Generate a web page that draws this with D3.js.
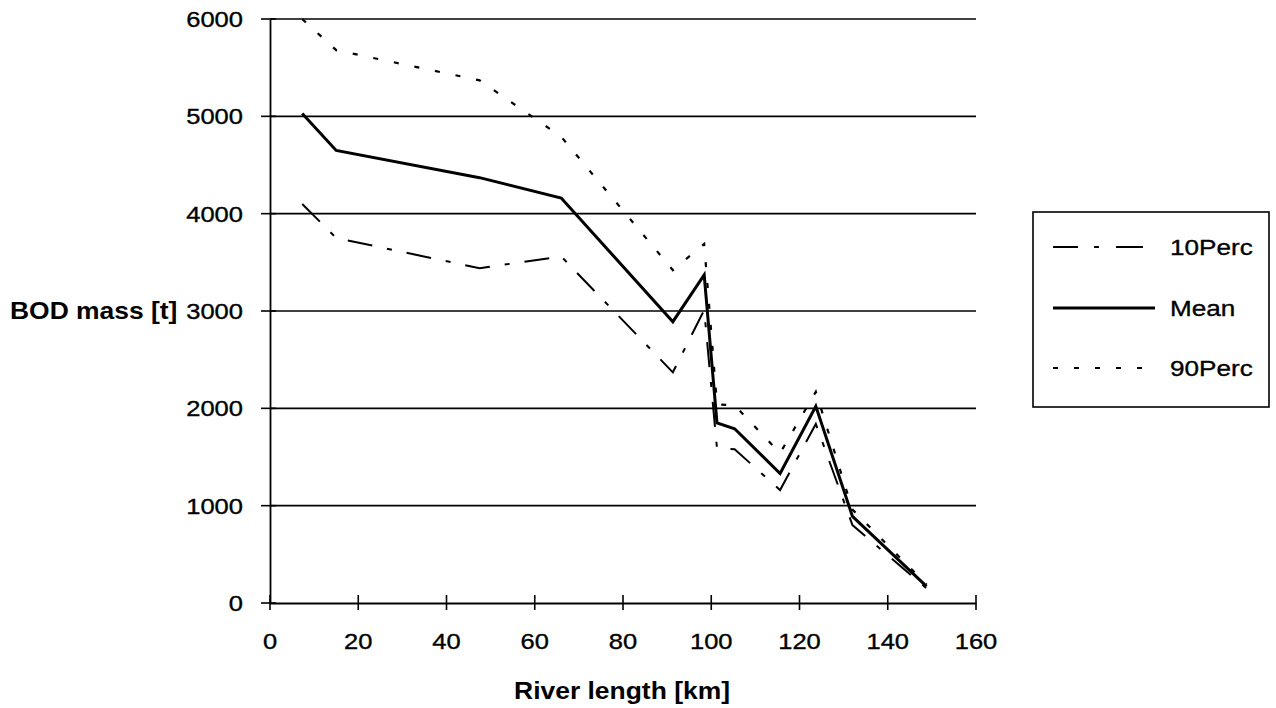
<!DOCTYPE html>
<html>
<head>
<meta charset="utf-8">
<script src="https://cdn.jsdelivr.net/npm/d3@7/dist/d3.min.js"></script>
<style>
  html, body { margin: 0; padding: 0; background: #fff; }
  svg { display: block; font-family: "Liberation Sans", Arial, Helvetica, sans-serif; }
</style>
</head>
<body>
<svg id="chart" width="1276" height="708"></svg>
<script>
// River km positions (shared by all series)
const riverKm = [7.3, 15, 47.5, 66, 91.3, 98.4, 101.3, 105.3, 115.6, 123.7, 132, 148.8];
const perc10 = [4100, 3750, 3440, 3560, 2370, 3010, 1590, 1580, 1160, 1840, 800, 150];
const mean   = [5030, 4650, 4370, 4160, 2890, 3370, 1850, 1790, 1330, 2020, 890, 170];
const perc90 = [6000, 5680, 5370, 4790, 3420, 3690, 2040, 2030, 1540, 2170, 960, 190];

const xTicks = [0, 20, 40, 60, 80, 100, 120, 140, 160];
const yTicks = [0, 1000, 2000, 3000, 4000, 5000, 6000];
const seriesNames = ["10Perc", "Mean", "90Perc"];

const svg = d3.select("#chart");
const x = d3.scaleLinear().domain([0, 160]).range([270, 976]);
const y = d3.scaleLinear().domain([0, 6000]).range([603, 19]);

const FONT = '"Liberation Sans", Arial, Helvetica, sans-serif';
const SX = 1.16; // horizontal stretch of the scanned type

// gridlines
svg.append("g").selectAll("line").data(yTicks.filter(d => d > 0)).join("line")
  .attr("x1", x(0)).attr("x2", x(160))
  .attr("y1", d => y(d)).attr("y2", d => y(d))
  .attr("stroke", "#000").attr("stroke-width", 1.6);

// y axis
const yAxis = svg.append("g").attr("transform", `translate(${x(0)},0)`)
  .call(d3.axisLeft(y).tickValues(yTicks).tickSize(0).tickFormat(""));
yAxis.select(".domain").attr("stroke", "#000").attr("stroke-width", 1.8);
svg.append("g").selectAll("line").data(yTicks).join("line")
  .attr("x1", x(0) - 9).attr("x2", x(0) + 6)
  .attr("y1", d => y(d)).attr("y2", d => y(d))
  .attr("stroke", "#000").attr("stroke-width", 1.6);
svg.append("g").selectAll("text").data(yTicks).join("text")
  .attr("transform", d => `translate(243,${y(d) + 8}) scale(${SX},1)`)
  .attr("text-anchor", "end")
  .attr("font-size", 22).attr("font-family", FONT)
  .attr("stroke", "#000").attr("stroke-width", 0.35)
  .text(d => d);

// x axis
const xAxis = svg.append("g").attr("transform", `translate(0,${y(0)})`)
  .call(d3.axisBottom(x).tickValues(xTicks).tickSize(0).tickFormat(""));
xAxis.select(".domain").attr("stroke", "#000").attr("stroke-width", 1.8);
svg.append("g").selectAll("line").data(xTicks).join("line")
  .attr("x1", d => x(d)).attr("x2", d => x(d))
  .attr("y1", y(0) - 8).attr("y2", y(0) + 7)
  .attr("stroke", "#000").attr("stroke-width", 1.6);
svg.append("g").selectAll("text").data(xTicks).join("text")
  .attr("transform", d => `translate(${x(d)},649) scale(${SX},1)`)
  .attr("text-anchor", "middle")
  .attr("font-size", 22).attr("font-family", FONT)
  .attr("stroke", "#000").attr("stroke-width", 0.35)
  .text(d => d);

// axis titles
svg.append("text")
  .attr("transform", `translate(622,699) scale(1.15,1)`)
  .attr("text-anchor", "middle").attr("font-weight", "bold")
  .attr("font-size", 23).attr("font-family", FONT)
  .text("River length [km]");
svg.append("text")
  .attr("transform", `translate(10,319) scale(1.15,1)`)
  .attr("text-anchor", "start").attr("font-weight", "bold")
  .attr("font-size", 23).attr("font-family", FONT)
  .text("BOD mass [t]");

// series
const styles = {
  "10Perc": { width: 2, dash: "25,15,5,15" },
  "Mean":   { width: 3, dash: null },
  "90Perc": { width: 2.2, dash: "5,16" }
};
const seriesData = { "10Perc": perc10, "Mean": mean, "90Perc": perc90 };
const line = d3.line().x(d => x(d[0])).y(d => y(d[1]));

seriesNames.forEach(name => {
  const pts = riverKm.map((k, i) => [k, seriesData[name][i]]);
  svg.append("path").datum(pts)
    .attr("d", line)
    .attr("fill", "none").attr("stroke", "#000")
    .attr("stroke-width", styles[name].width)
    .attr("stroke-linejoin", "miter")
    .attr("stroke-dasharray", styles[name].dash);
});

// legend
const lg = svg.append("g");
lg.append("rect").attr("x", 1033).attr("y", 212).attr("width", 236).attr("height", 195)
  .attr("fill", "#fff").attr("stroke", "#000").attr("stroke-width", 1.6);
const legendY = [247, 308, 368];
seriesNames.forEach((name, i) => {
  lg.append("line")
    .attr("x1", 1053).attr("x2", name === "Mean" ? 1155 : 1143)
    .attr("y1", legendY[i]).attr("y2", legendY[i])
    .attr("stroke", "#000").attr("stroke-width", styles[name].width)
    .attr("stroke-dasharray", name === "10Perc" ? "25,16,5,17,30" : styles[name].dash);
  lg.append("text")
    .attr("transform", `translate(1170,${legendY[i] + 8}) scale(${SX},1)`)
    .attr("font-size", 22.5).attr("font-family", FONT)
    .attr("stroke", "#000").attr("stroke-width", 0.35)
    .text(name);
});
</script>
</body>
</html>
